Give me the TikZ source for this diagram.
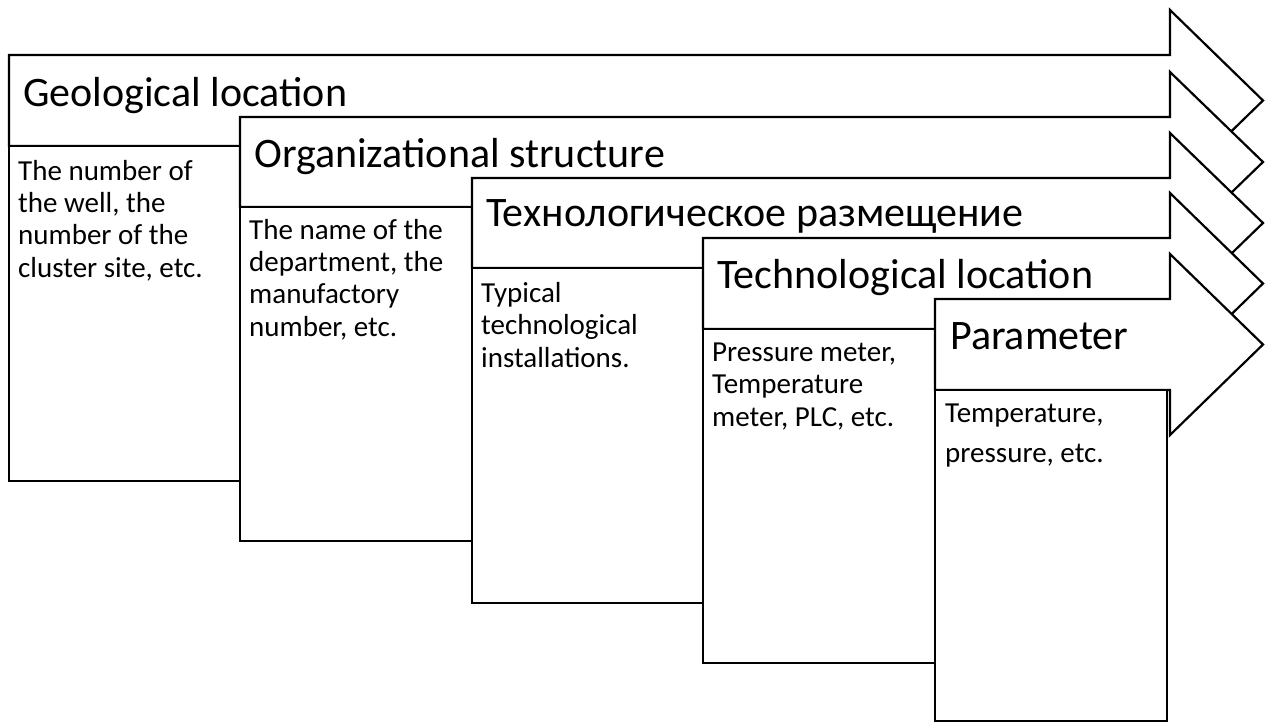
\documentclass[tikz,border=0pt]{standalone}
\usepackage{fontspec}
\setmainfont{Carlito}
\tikzset{
  outline/.style={draw=black, line width=2.2pt, fill=white, line join=miter},
  headline/.style={anchor=base west, inner sep=0pt, font=\fontsize{42}{50}\selectfont},
  % multi-line texts are placed by the baseline of their last line
  detail/.style={anchor=base west, inner sep=0pt, align=left, font=\fontsize{29}{32.3}\selectfont},
}
\begin{document}
\begin{tikzpicture}[x=1pt,y=-1pt]
\useasboundingbox (0,0) rectangle (1270,724);
% stacked block arrows, each with its description panel below
\foreach \L/\T/\B/\R/\D in {9/55/146/240/481, 240/117/207/472/541, 472/178/268/703/603, 703/238/329/935/663, 935/299/390/1167/721} {
  \draw[outline] (\L,\T) -- (1170,\T) -- (1170,\T-45) -- (1263,{(\T+\B)/2})
        -- (1170,\B+45) -- (1170,\B) -- (\L,\B) -- cycle;
  \draw[outline] (\L,\B) rectangle (\R,\D);
}
% level titles
\node[headline] (t1) at (23,106) {Geological location};
\node[headline] (t2) at (254,167) {Organizational structure};
\node[headline] (t3) at (486,226) {Технологическое размещение};
\node[headline] (t4) at (717,288) {Technological location};
\node[headline] (t5) at (950,349) {Parameter};
% descriptions
\node[detail] (d1) at (18,277) {The number of\\the well, the\\number of the\\cluster site, etc.};
\node[detail] (d2) at (249,336) {The name of the\\department, the\\manufactory\\number, etc.};
\node[detail] (d3) at (481,367) {Typical\\technological\\installations.};
\node[detail] (d4) at (712,426) {Pressure meter,\\Temperature\\meter, PLC, etc.};
\node[detail, font=\fontsize{29}{40}\selectfont] (d5) at (945,462) {Temperature,\\pressure, etc.};
\end{tikzpicture}
\end{document}
